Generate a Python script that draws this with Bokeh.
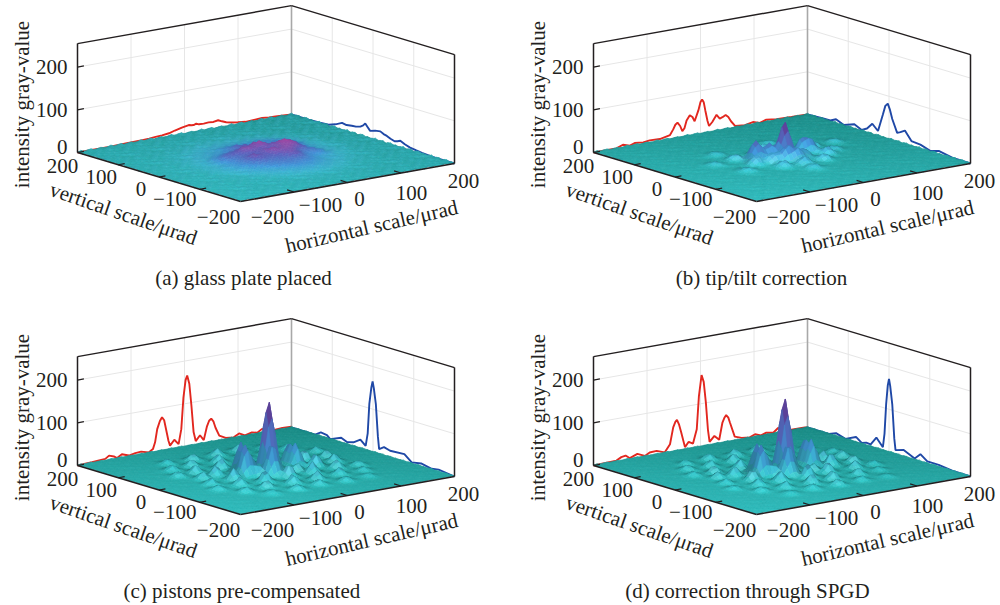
import numpy as np
from bokeh.core.properties import value
from bokeh.embed import file_html
from bokeh.layouts import column, row
from bokeh.models import Range1d
from bokeh.plotting import figure
from bokeh.resources import INLINE

# ---- values -----------------------------------------------------------------
z_ticks = [0, 100, 200]
floor_ticks = [-200, -100, 0, 100, 200]
floor_labels = ["\u2212200", "\u2212100", "0", "100", "200"]
z_top = 255
captions = ["(a) glass plate placed", "(b) tip/tilt correction",
            "(c)  pistons pre-compensated", "(d) correction through SPGD"]

# profile on the left wall (horizontal scale, gray value)
red_a_u = [-200,-141,-110,-79,-66,-54,-42,-29,-18,-5,8,13,17,22,27,36,45,54,63,70,78,89,100,114,130,145,158,170,185,200]
red_a_g = [0,0,1,2,2.5,4,5,7,11,15,18,16.5,16,18,15.5,15,16,15,17,13,9,6,4,2,3,4,2.5,2,1,0]
red_b_u = [-200,-157,-145,-132,-123,-107,-95,-76,-57,-51,-47,-43,-38,-34,-30,-26,-20,-15,-11,-4,0,3,6,9,13,16,22,30,36,41,47,52,57,65,83,98,111,123,142,170,200]
red_b_g = [0,0,6,1,5,3,5,4,9,21,31,35,26,13,19,36,47,42,31,55,74,79,72,52,27,14,22,37,27,29,33,27,16,3,1,5,0,5,2,1,0]
red_c_u = [-200,-173,-148,-141,-132,-126,-117,-104,-92,-81,-67,-59,-55,-51,-46,-42,-38,-34,-30,-27,-19,-11,-6,-2,2,5,9,13,17,21,29,36,42,46,50,54,58,65,77,92,102,113,126,136,145,164,183,200]
red_c_g = [0,2,4,10,6,1,8,2,5,6,1,7,22,52,70,78,70,45,20,8,20,8,42,115,155,165,145,92,30,8,20,7,38,50,54,47,31,11,3,1,8,1,5,2,9,1,3,2]
red_d_u = [-200,-157,-148,-140,-132,-118,-104,-95,-82,-67,-57,-51,-47,-44,-40,-36,-29,-22,-14,-7,-3,2,6,10,14,17,26,35,41,45,48,52,55,64,77,92,102,113,123,136,145,164,195,200]
red_d_g = [0,2,8,10,2,9,1,7,8,1,18,56,68,72,60,41,5,16,10,42,118,167,150,101,35,7,19,8,47,58,63,56,44,9,3,1,6,1,5,2,11,2,1,0]

# profile on the right wall (vertical scale, gray value)
blue_a_v = [200,158,130,109,92,76,65,52,42,31,24,19,13,7,-5,-18,-26,-34,-43,-53,-60,-67,-78,-91,-105,-120,-135,-152,-175,-200]
blue_a_g = [0,0,1,2,8,16,14,16,17,20,25,31,24,17,21,23,19,17,13,10,12,15,10,6,4,2,1,0,0,0]
blue_b_v = [200,164,144,130,111,85,67,54,41,27,15,9,3,-2,-8,-20,-28,-39,-55,-77,-102,-122,-155,-200]
blue_b_g = [0,2,2,9,1,10,2,9,24,11,53,75,82,70,49,20,24,31,11,9,1,7,1,0]
blue_c_v = [200,166,142,128,113,105,78,64,48,31,18,13,9,4,1,-2,-7,-12,-15,-27,-42,-77,-95,-118,-144,-161,-200]
blue_c_g = [0,0,0,9,7,0,11,5,9,20,9,40,110,150,165,150,114,40,11,19,15,17,3,7,2,5,0]
blue_d_v = [200,148,130,107,81,67,56,45,31,15,11,7,3,0,-3,-8,-13,-16,-36,-63,-77,-94,-122,-155,-200]
blue_d_g = [0,0,7,0,12,2,6,5,25,7,40,110,155,171,155,114,35,9,15,3,17,5,5,1,0]

# surface: position, height and width of each lobe seen on the surface
lobe_a_u = [5,40,-25,0,30,55,-50,-60,60,0,0,-40,65,20,-15,70,-70]
lobe_a_v = [25,10,15,-15,-15,-5,15,-30,50,-60,0,-25,25,-40,50,-30,10]
lobe_a_h = [15,16,12,10,11,9,6,4,4,5,14,8,8,8,7,6,6]
lobe_a_w = [11,12,11,11,11,11,12,25,25,30,55,11,11,11,11,11,11]

lobe_b_u = [5,-45,-20,-8,40,55,8,25,-30,-20,25,65,-60,0,-35,40,75,-65,10,-5,90,-95,-110,120,35,-70]
lobe_b_v = [0,5,5,-22,5,2,-30,-20,-20,35,30,-25,-15,-55,-50,-50,25,30,55,-85,-10,-40,20,30,80,70]
lobe_b_h = [82,46,34,34,29,27,25,21,20,18,18,17,18,17,14,14,14,12,13,9,9,8,7,7,7,7]
lobe_b_w = [8,9,8,8,8,8,7,8,8,8,8,8,8,8,8,8,8,8,8,9,8,9,9,9,9,9]

lobe_c_u = [5,-38,-45,50,50,-10,-30,35, -92,-47,0,43,88, -112,-72,-25,22,63,108, -128,-92,-46,0,46,88,132, -108,-80,84,122, -120,-74,76,114, -132,-88,-46,2,44,92,128, -108,-66,-18,24,70,112, -84,-38,6,52,96]
lobe_c_v = [0,12,-8,10,-8,-28,-15,-30, 122,118,120,124,116, 84,88,84,86,82,88, 48,52,50,46,52,48,50, 14,18,16,12, -22,-18,-22,-18, -56,-52,-58,-54,-56,-52,-58, -92,-88,-90,-94,-88,-92, -124,-126,-122,-128,-124]
lobe_c_h = [160,70,70,48,52,74,22,18, 11,14,16,14,11, 12,16,19,20,18,12, 11,18,23,27,24,19,11, 16,23,24,16, 14,26,28,18, 10,18,26,28,26,19,11, 11,16,20,20,16,10, 8,12,12,11,7]
lobe_c_w = [8.5,7.5,7.5,7,7,8,6,6, 7,7,7,7,7, 7,6.5,6.5,6.5,6.5,7, 7,6.5,6.5,6.5,6.5,6.5,7, 6.5,6.5,6.5,6.5, 6.5,6.5,6.5,6.5, 7,6.5,6.5,6.5,6.5,6.5,7, 7,6.5,6.5,6.5,6.5,7, 8,7,7,7,8]

lobe_d_u = [5,-38,-45,50,50,-10,-30,35, -90,-44,2,46,92, -110,-70,-23,24,66,110, -126,-90,-44,2,48,90,130, -106,-78,86,124, -118,-72,78,116, -130,-86,-44,4,46,94,130, -106,-64,-16,26,72,114, -82,-36,8,54,98]
lobe_d_v = [0,12,-8,10,-8,-28,-15,-30, 118,122,118,120,120, 88,84,88,82,86,84, 52,48,46,50,48,52,46, 18,14,12,16, -18,-22,-18,-22, -52,-56,-54,-58,-52,-56,-54, -88,-92,-94,-90,-92,-88, -128,-122,-126,-124,-128]
lobe_d_h = [168,66,70,58,60,72,22,17, 10,13,15,15,10, 11,15,18,19,19,11, 10,16,22,26,23,18,10, 15,22,23,15, 12,24,27,16, 8,16,24,30,24,18,10, 10,15,22,19,15,8, 7,11,13,10,6]
lobe_d_w = [8.5,7.5,7.5,7,7,8,6,6, 7,7,7,7,7, 7,6.5,6.5,6.5,6.5,7, 7,6.5,6.5,6.5,6.5,6.5,7, 6.5,6.5,6.5,6.5, 6.5,6.5,6.5,6.5, 7,6.5,6.5,6.5,6.5,6.5,7, 7,6.5,6.5,6.5,6.5,7, 8,7,7,7,8]

# fine ripple of the surface, hand-typed, repeated across it
ripple = [[ .4,-.6, .9,-.2,-.8, .5, .1,-.9, .7,-.3, .6],
          [-.7, .2,-.4, .8, .3,-.9, .6, .2,-.5, .9,-.1],
          [ .8,-.3, .1,-.7, .6, .2,-.8, .5,-.2,-.6, .3],
          [-.1, .7,-.9, .4,-.5, .9,-.2,-.6, .8, .1,-.7],
          [ .5,-.8, .6, .2,-.3,-.6, .9,-.1,-.4, .7, .2],
          [-.9, .3, .2,-.6, .8,-.1,-.5, .7, .3,-.8, .5],
          [ .2, .6,-.7, .9,-.4, .3,-.1,-.8, .6,-.2,-.5],
          [ .7,-.5, .4,-.1, .5,-.7, .8, .3,-.9, .4, .1],
          [-.3, .1,-.6, .5,-.9, .6,-.3, .9,-.1,-.5, .8]]

# ---- style and layout --------------------------------------------------------
FONT = value("Liberation Serif")
TXT = "#231f20"
U_AXIS = (214.0, -38.0)    # screen shift across horizontal scale
V_AXIS = (-163.0, -49.0)   # screen shift across vertical scale
FRONT = (240.0, 201.0)
Z_SCALE = 0.427
nodes = np.linspace(-200, 200, 65)


def proj(u, v, z=0.0):
    u, v, z = np.asarray(u, float), np.asarray(v, float), np.asarray(z, float)
    a, b = (u + 200) / 400, (v + 200) / 400
    return (FRONT[0] + a * U_AXIS[0] + b * V_AXIS[0],
            FRONT[1] + a * U_AXIS[1] + b * V_AXIS[1] - z * Z_SCALE)


def hex_of(rgb):
    rgb = np.clip(rgb, 0, 255).astype(int)
    return ["#%02x%02x%02x" % tuple(c) for c in rgb]


def surface(p, lu, lv, lh, lw, zmax, top, amp):
    U, V = np.meshgrid(nodes, nodes, indexing="ij")
    Z = np.full(U.shape, 1.5)
    for a, b, h, w in zip(lu, lv, lh, lw):
        Z += h * np.exp(-((U - a) ** 2 + (V - b) ** 2) / (2.0 * w * w))
    rp = np.array(ripple)
    I, J = np.indices(U.shape)
    Z = Z + amp * rp[I % rp.shape[0], J % rp.shape[1]]

    step = nodes[1] - nodes[0]
    zu, zv = np.gradient(Z * Z_SCALE / 0.55, step)
    norm = np.sqrt(zu ** 2 + zv ** 2 + 1)
    nx, ny, nz = -zu / norm, -zv / norm, 1 / norm
    l = np.array([-.35, -.55, .76]); l = l / np.linalg.norm(l)
    vw = np.array([-.45, -.45, .77]); h_ = l + vw; h_ = h_ / np.linalg.norm(h_)
    dif = np.clip(nx * l[0] + ny * l[1] + nz * l[2], 0, None) / l[2]
    spec = np.clip(nx * h_[0] + ny * h_[1] + nz * h_[2], 0, 1) ** 40

    def cell(a):
        return (a[:-1, :-1] + a[1:, :-1] + a[1:, 1:] + a[:-1, 1:]) / 4

    f = np.clip(cell(Z) / zmax, 0, 1)
    t = (400 - cell(U) - cell(V)) / 800
    teal_b, teal_f = np.array([22, 134, 126.]), np.array([48, 190, 190.])
    base = teal_b[None, None] + (teal_f - teal_b)[None, None] * t[..., None]
    stops_x = [0, .1, .3, .6, 1]
    stops = np.array([[50, 178, 188], [56, 176, 196], [63, 143, 208], [90, 95, 184], top], float)
    cm = np.stack([np.interp(f, stops_x, stops[:, k]) for k in range(3)], -1)
    w = np.clip(f / .1, 0, 1)[..., None]
    col = base * (1 - w) + cm * w
    k = .95 - .75 * np.clip(f * 2.5, 0, 1)
    shade = (1 + k * (np.clip(cell(dif), .62, 1.5) - 1))[..., None]
    s = (cell(spec) * .5 * np.clip(1 - f * 3, 0, 1))[..., None]
    col = col * shade + (255 - col * shade) * s

    X, Y = proj(U, V, Z)
    n = len(nodes) - 1
    xs, ys, cs = [], [], []
    colors = hex_of(col.reshape(-1, 3))
    for i in range(n - 1, -1, -1):
        for j in range(n - 1, -1, -1):
            xs.append([X[i, j], X[i + 1, j], X[i + 1, j + 1], X[i, j + 1]])
            ys.append([Y[i, j], Y[i + 1, j], Y[i + 1, j + 1], Y[i, j + 1]])
            cs.append(colors[i * n + j])
    p.patches(xs, ys, fill_color=cs, line_color=cs, line_width=0.6)


def seg(p, u, v, z, color, lw):
    x, y = proj(u, v, z)
    p.line(list(x), list(y), line_color=color, line_width=lw)


def panel(x0, x1, y0, y1, caption, cap_x, cap_y,
          red_u, red_g, blue_v, blue_g, lu, lv, lh, lw, zmax, top, amp):
    p = figure(width=x1 - x0, height=y1 - y0, x_range=Range1d(x0, x1), y_range=Range1d(y1, y0),
               x_axis_location=None, y_axis_location=None, toolbar_location=None,
               output_backend="svg", min_border=0, outline_line_color=None,
               background_fill_color="white", border_fill_color="white")
    p.grid.visible = False
    gc, gw = "#e6e6e6", 1.0
    for t in floor_ticks[1:-1]:
        seg(p, [t, t], [200, 200], [0, z_top], gc, gw)
        seg(p, [200, 200], [t, t], [0, z_top], gc, gw)
    for t in z_ticks[1:]:
        seg(p, [-200, 200], [200, 200], [t, t], gc, gw)
        seg(p, [200, 200], [200, -200], [t, t], gc, gw)
    seg(p, [200, 200], [200, 200], [0, z_top], "#a8a8a8", 1.6)

    seg(p, red_u, [200] * len(red_u), red_g, "#e2271f", 1.9)
    seg(p, [200] * len(blue_v), blue_v, blue_g, "#1f48a6", 1.9)

    surface(p, lu, lv, lh, lw, zmax, top, amp)

    k = "#231f20"
    seg(p, [-200, 200], [200, 200], [z_top, z_top], k, 1.5)
    seg(p, [200, 200], [200, -200], [z_top, z_top], k, 1.5)
    seg(p, [-200, -200], [200, 200], [0, z_top], k, 1.5)
    seg(p, [200, 200], [-200, -200], [0, z_top], k, 1.5)
    seg(p, [-200, -200], [200, -200], [0, 0], k, 1.6)
    seg(p, [-200, 200], [-200, -200], [0, 0], k, 1.6)
    for t in z_ticks:
        seg(p, [-200, -188], [200, 200], [t, t], k, 1.2)
    for t in floor_ticks[1:-1]:
        seg(p, [-200, -188], [t, t], [0, 0], k, 1.2)
        seg(p, [t, t], [-200, -183], [0, 0], k, 1.2)

    def txt(x, y, s, angle=0.0, align="center"):
        p.text([x], [y], text=[s], text_font=FONT, text_font_size="21px", text_color=TXT,
               text_align=align, text_baseline="middle", angle=angle)

    for t, lab in zip(z_ticks, z_ticks):
        x, y = proj(-200, 200, t)
        txt(float(x) - 10, float(y) + (-6 if t == 0 else 0), str(lab), align="right")
    v_off = [(-22, 15), (-25, 10), (-18, 11.5), (-17, 12), (-15, 13)]
    u_off = [(32, 15), (26.5, 12.5), (12, 16), (10.5, 19.5), (9, 17)]
    for t, lab, o, q in zip(floor_ticks, floor_labels, v_off, u_off):
        x, y = proj(-200, t)
        txt(float(x) + o[0], float(y) + o[1], lab)
        x, y = proj(t, -200)
        txt(float(x) + q[0], float(y) + q[1], lab)
    txt(21, 104, "intensity gray-value", angle=np.pi / 2)
    txt(123, 213, "vertical scale/\u03bcrad", angle=-0.33)
    txt(371, 226, "horizontal scale/\u03bcrad", angle=0.225)
    txt(cap_x, cap_y, caption)
    return p


PURPLE = [108, 45, 145]
MAGENTA = [165, 70, 160]
pa = panel(0, 500, 0, 316, captions[0], 243, 277, red_a_u, red_a_g, blue_a_v, blue_a_g,
           lobe_a_u, lobe_a_v, lobe_a_h, lobe_a_w, 32, MAGENTA, 2.2)
pb = panel(500 - 516, 1000 - 516, 0, 316, captions[1], 761 - 516, 277, red_b_u, red_b_g, blue_b_v, blue_b_g,
           lobe_b_u, lobe_b_v, lobe_b_h, lobe_b_w, 85, PURPLE, 1.6)
pc = panel(0, 500, 316 - 313, 604 - 313, captions[2], 244, 277, red_c_u, red_c_g, blue_c_v, blue_c_g,
           lobe_c_u, lobe_c_v, lobe_c_h, lobe_c_w, 165, PURPLE, 0.9)
pd = panel(500 - 516, 1000 - 516, 316 - 313, 604 - 313, captions[3], 747 - 516, 277, red_d_u, red_d_g, blue_d_v, blue_d_g,
           lobe_d_u, lobe_d_v, lobe_d_h, lobe_d_w, 172, PURPLE, 0.9)

page = column(row(pa, pb), row(pc, pd))
open("out.html", "w").write(file_html(page, INLINE))
